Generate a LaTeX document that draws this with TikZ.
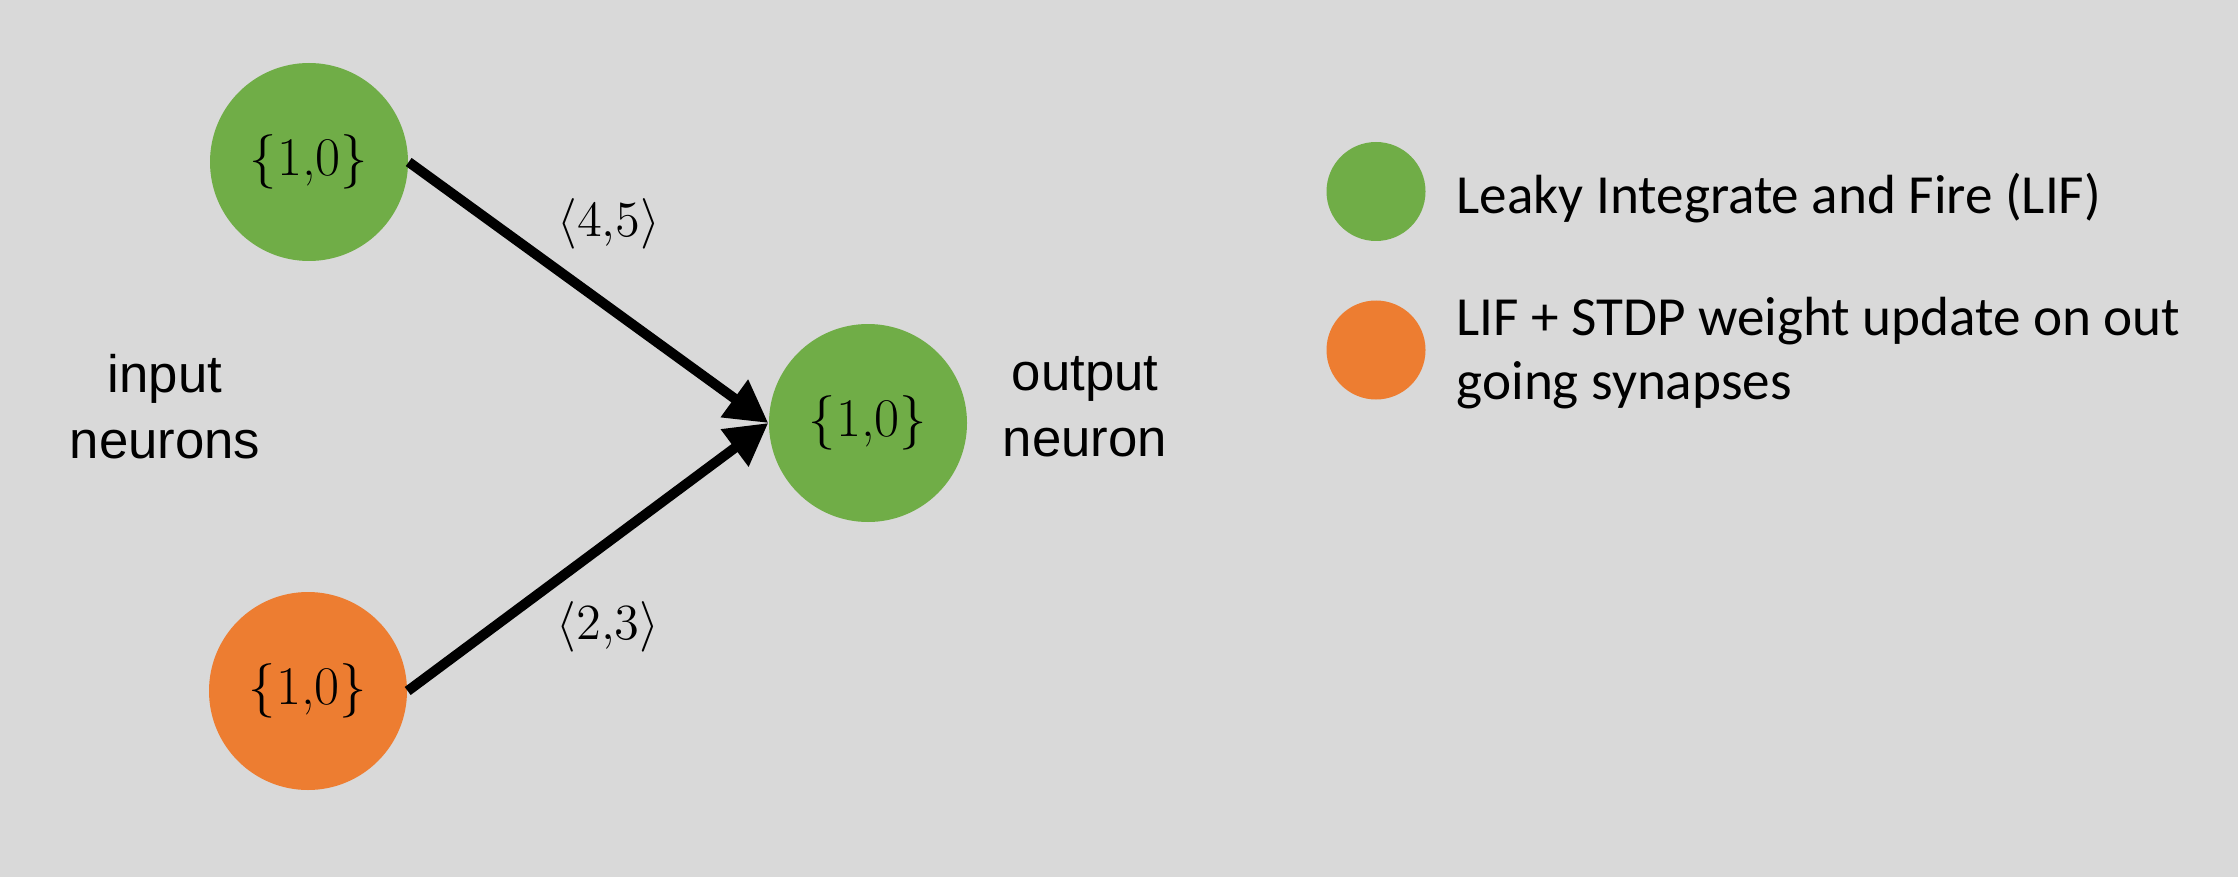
\documentclass[tikz,border=0pt]{standalone}
\usepackage{fontspec}
\newfontfamily\arialfont{Liberation Sans}
\newfontfamily\calibrifont{Carlito}
\usepackage{tikz}
\usetikzlibrary{positioning, arrows.meta}
\definecolor{bggray}{HTML}{D9D9D9}
\definecolor{lifgreen}{HTML}{70AD47}
\definecolor{stdporange}{HTML}{ED7D31}
\tikzset{
  neuron/.style={circle, minimum size=1.98cm, inner sep=0pt, font=\fontsize{15.5}{18}\selectfont},
  legdot/.style={circle, minimum size=0.99cm, inner sep=0pt},
  grouplbl/.style={align=center, font=\arialfont\fontsize{15}{18.8}\selectfont},
  legtxt/.style={align=left, font=\calibrifont\fontsize{15.7}{18}\selectfont},
  weight/.style={font=\fontsize{14}{17}\selectfont, inner sep=2pt},
  synapse/.style={line width=0.1cm, -{Triangle[length=4.2mm,width=4.4mm]}}
}

\begin{document}
\begin{tikzpicture}
      \fill[bggray] (0,0) rectangle (22.38,8.77);
      \useasboundingbox (0,0) rectangle (22.38,8.77);

      \node[neuron, fill=lifgreen] (NRN1) at (3.09,7.15) {\{1,0\}};
      \node[neuron, fill=stdporange] (NRN2) at (3.08,1.86) {\{1,0\}};
      \node[neuron, fill=lifgreen] (NRN3) at (8.68,4.54) {\{1,0\}};

      \node[grouplbl] (LBL1) at (1.65,4.70) {input\\neurons};
      \node[grouplbl] (LBL2) at (10.85,4.70) {output\\neuron};

      \node[legdot, fill=lifgreen] (LEG1) at (13.76,6.855) {};
      \node[legdot, fill=stdporange] (LEG2) at (13.76,5.27) {};
      \node[legtxt, right=0.18cm of LEG1, yshift=-0.07cm] (LEGT1) {Leaky Integrate and Fire (LIF)};
      \node[legtxt, right=0.18cm of LEG2, yshift=-0.03cm] (LEGT2) {LIF + STDP weight update on out\\going synapses};

      \draw[synapse] (node cs:name=NRN1, anchor=east) -- node[weight, pos=0.38, anchor=south west] (W1) {$\langle 4{,}5\rangle$} (node cs:name=NRN3, anchor=west);
      \draw[synapse] (node cs:name=NRN2, anchor=east) -- node[weight, pos=0.38, anchor=north west] (W2) {$\langle 2{,}3\rangle$} (node cs:name=NRN3, anchor=west);
    \end{tikzpicture}
\end{document}
